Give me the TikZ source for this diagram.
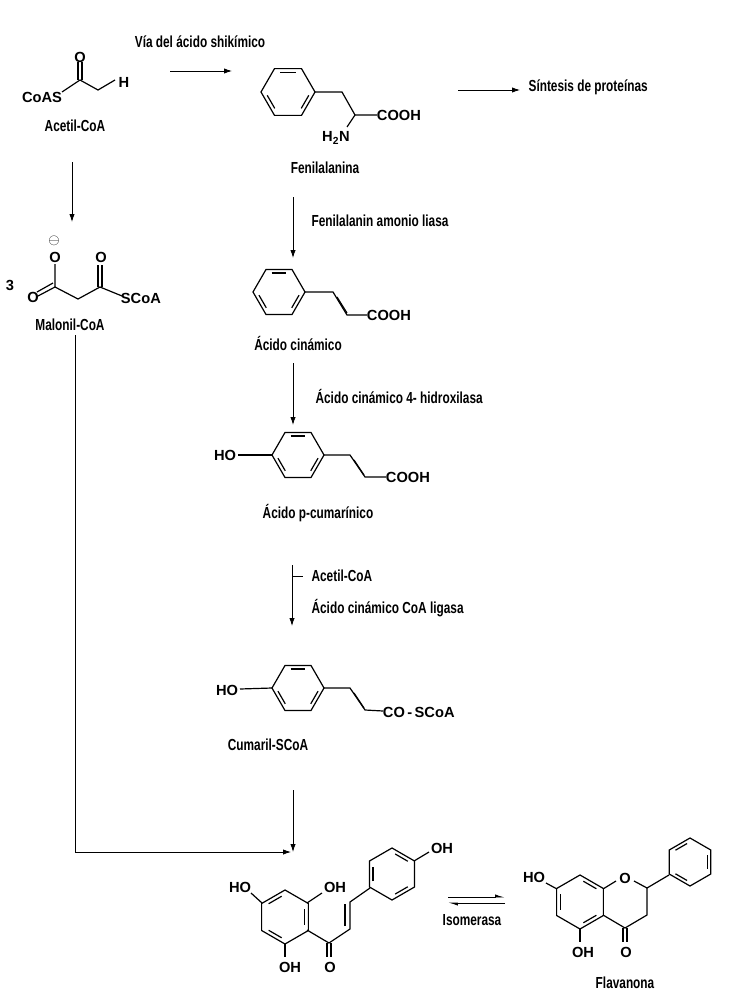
\documentclass[tikz,border=0pt]{standalone}
\usepackage{fontspec}
\setmainfont{Liberation Sans}
\newfontfamily\narrowf{Liberation Sans}[FakeStretch=0.74]
\usetikzlibrary{calc,arrows.meta}
\newcommand\hexring[5]{%
\draw[bond] ($(#1,#2)+(#4:#3)$) \foreach \k in {1,...,5}{ -- ($(#1,#2)+(#4+60*\k:#3)$)} -- cycle;
\foreach \k in {#5}{\draw[bond] ($(#1,#2)+(#4+60*\k+9:#3*0.78)$) -- ($(#1,#2)+(#4+60*\k+51:#3*0.78)$);}}
\begin{document}
\begin{tikzpicture}[x=0.75pt,y=-0.75pt,
 bond/.style={line width=0.9pt},
 arr/.style={line width=0.6pt,-{Latex[length=6pt,width=4pt]}},
 lab/.style={font=\narrowf\bfseries\fontsize{12}{12}\selectfont,inner sep=1pt},
 atom/.style={font=\bfseries\fontsize{11}{11}\selectfont,inner sep=0.5pt}]
\useasboundingbox[fill=white] (0,0) rectangle (749,999);
% Acetil-CoA
\node[atom] (coas) at (42,97) {CoAS};
\draw[bond] (62,92) -- (80,80) -- (98,90) -- (115,80);
\draw[bond] (78,80) -- (78,62); \draw[bond] (82,80) -- (82,62);
\node[atom] (o1) at (80,57) {O};
\node[atom] (h1) at (124,82) {H};
\node[lab] (acetil) at (75,126) {Acetil-CoA};
\node[lab] (via) at (200,42) {Vía del ácido shikímico};
\coordinate (a1) at (170,71); \coordinate (a2) at (232,71);
\draw[arr] (a1) -- (a2);
% Fenilalanina
\hexring{288}{92}{27}{0}{0,2,4}
\draw[bond] (315,92) -- (342,92) -- (355,115) -- (377,115);
\draw[bond] (355,115) -- (347,127);
\node[atom,anchor=west] (cooh1) at (376,115) {COOH};
\node[atom] (h2n) at (336,138) {H\textsubscript{2}N};
\node[lab] (fenil) at (325,168) {Fenilalanina};
\coordinate (b1) at (458,90); \coordinate (b2) at (520,90);
\draw[arr] (b1) -- (b2);
\node[lab,anchor=west] (sint) at (527,87) {Síntesis de proteínas};
\coordinate (c1) at (293,197); \coordinate (c2) at (293,258);
\draw[arr] (c1) -- (c2);
\node[lab,anchor=west] (fal) at (310,221) {Fenilalanin amonio liasa};
% Acido cinamico
\hexring{279}{292}{26}{0}{0,2,4}
\draw[bond] (305,292) -- (333,292) -- (347,315) -- (367,315);
\draw[bond] (337,297) -- (347,313);
\node[atom,anchor=west] (cooh2) at (366,315) {COOH};
\node[lab] (cin) at (298,343) {Ácido cinámico};
\coordinate (d1) at (293,363); \coordinate (d2) at (293,425);
\draw[arr] (d1) -- (d2);
\node[lab,anchor=west] (hid) at (314,396) {Ácido cinámico 4- hidroxilasa};
% p-cumarinico
\hexring{298}{455}{26}{0}{0,2,4}
\node[atom] (ho1) at (225,455) {HO};
\draw[bond] (238,455) -- (272,455);
\draw[bond] (324,455) -- (350,455) -- (365,477) -- (386,477);
\draw[bond] (354,460) -- (364,475);
\node[atom,anchor=west] (cooh3) at (385,477) {COOH};
\node[lab] (pcum) at (318,513) {Ácido p-cumarínico};
\coordinate (e1) at (292,565); \coordinate (e2) at (292,626);
\draw[arr] (e1) -- (e2);
\coordinate (t1) at (292,576); \coordinate (t2) at (303,576);
\draw[line width=0.6pt] (t1) -- (t2);
\node[lab,anchor=west] (ac2) at (310,576) {Acetil-CoA};
\node[lab,anchor=west] (lig) at (310,608) {Ácido cinámico CoA ligasa};
% Cumaril-SCoA
\hexring{298}{688}{26}{0}{0,2,4}
\node[atom] (ho2) at (227,690) {HO};
\draw[bond] (240,689) -- (272,688);
\draw[bond] (324,688) -- (350,688) -- (365,710) -- (383,711);
\draw[bond] (354,693) -- (364,708);
\node[atom,anchor=west] (co) at (382,712) {CO\,-\,SCoA};
\node[lab] (cum) at (268,745) {Cumaril-SCoA};
\coordinate (f1) at (293,790); \coordinate (f2) at (293,852);
\draw[arr] (f1) -- (f2);
% Malonil-CoA
\node[atom] (three) at (10,285) {3};
\node[atom] (om) at (55,257) {O};
\node[inner sep=0pt,font=\fontsize{11}{11}\selectfont] (chg) at (54,241) {$\ominus$};
\node[atom] (o3) at (33,297) {O};
\node[atom] (o4) at (101,257) {O};
\draw[bond] (55,264) -- (55,287) -- (78,299) -- (100,287) -- (122,296);
\draw[bond] (55,287) -- (38,296); \draw[bond] (53,283) -- (37,292);
\draw[bond] (98,287) -- (98,265); \draw[bond] (102,287) -- (102,265);
\node[atom,anchor=west] (scoa) at (120,298) {SCoA};
\node[lab] (mal) at (70,325) {Malonil-CoA};
\coordinate (g1) at (72,162); \coordinate (g2) at (72,222);
\draw[arr] (g1) -- (g2);
\coordinate (m1) at (75,335); \coordinate (m2) at (75,852); \coordinate (m3) at (291,852);
\draw[arr] (m1) -- (m2) -- (m3);
% Chalcona
\hexring{285}{917}{27}{90}{0,2,4}
\node[atom] (ho3) at (240,887) {HO};
\draw[bond] (251,893) -- (262,903);
\draw[bond] (307,903) -- (322,893);
\node[atom] (oh3) at (335,887) {OH};
\draw[bond] (285,944) -- (285,957);
\node[atom] (oh4) at (290,967) {OH};
\draw[bond] (307,930) -- (329,943) -- (350,929) -- (350,902) -- (370,888);
\draw[bond] (345,926) -- (345,904);
\draw[bond] (327,943) -- (327,957); \draw[bond] (331,943) -- (331,957);
\node[atom] (o5) at (330,967) {O};
\hexring{392}{874}{26}{90}{1,3,5}
\draw[bond] (414,861) -- (429,852);
\node[atom] (oh5) at (442,848) {OH};
% equilibrium
\coordinate (i1) at (448,897); \coordinate (i2) at (505,897);
\coordinate (i3) at (448,903); \coordinate (i4) at (505,903);
\draw[line width=0.6pt,-{Latex[left,length=6pt,width=4pt]}] (i4) -- (i3);
\draw[line width=0.6pt,-{Latex[left,length=6pt,width=4pt]}] (i1) -- (i2);
\node[lab] (iso) at (472,920) {Isomerasa};
% Flavanona
\hexring{580}{902}{27}{90}{1,3,5}
\node[atom] (ho4) at (534,877) {HO};
\draw[bond] (546,883) -- (557,889);
\draw[bond] (580,929) -- (580,942);
\node[atom] (oh6) at (583,952) {OH};
\draw[bond] (603,889) -- (616,881);
\node[atom] (o6) at (625,878) {O};
\draw[bond] (634,881) -- (647,888) -- (647,915) -- (625,928) -- (603,915);
\draw[bond] (623,928) -- (623,942); \draw[bond] (627,928) -- (627,942);
\node[atom] (o7) at (626,952) {O};
\draw[bond] (647,888) -- (669,875);
\hexring{690}{862}{24}{-150}{0,2,4}
\node[lab] (flav) at (625,983) {Flavanona};
\end{tikzpicture}
\end{document}
